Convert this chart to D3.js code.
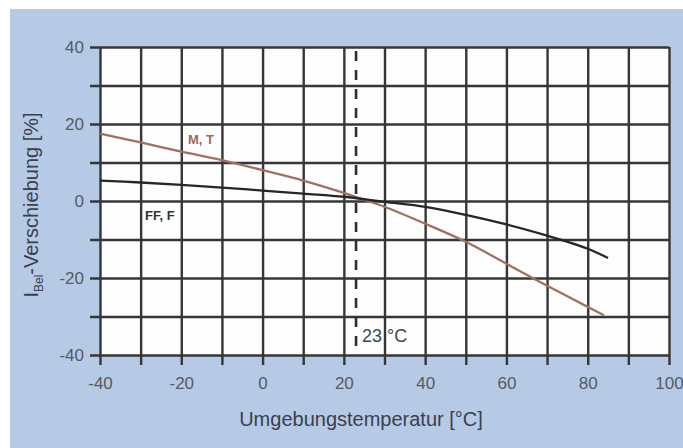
<!DOCTYPE html>
<html>
<head>
<meta charset="utf-8">
<script src="https://cdn.jsdelivr.net/npm/d3@7"></script>
<style>
  html, body { margin: 0; padding: 0; background: #fff; }
  svg { display: block; font-family: "Liberation Sans", Arial, sans-serif; }
</style>
</head>
<body>
<svg width="683" height="448"></svg>
<script>
// temperature [°C] and shift [%]
var tempFF = [-40, -30, -20, -10, 0, 10, 20, 30, 40, 50, 60, 70, 80, 85];
var shiftFF = [5.3, 4.8, 4.2, 3.5, 2.7, 1.9, 1.1, -0.2, -1.5, -3.6, -6.1, -9.0, -12.4, -14.8];

var tempMT = [-40, -30, -20, -10, 0, 10, 20, 25, 30, 40, 50, 60, 70, 80, 84];
var shiftMT = [17.5, 15.2, 12.8, 10.6, 8.0, 5.3, 2.1, 0.3, -1.5, -5.9, -10.6, -16.3, -22.0, -27.5, -29.7];

var xTicks = [-40, -30, -20, -10, 0, 10, 20, 30, 40, 50, 60, 70, 80, 90, 100];
var yTicks = [-40, -30, -20, -10, 0, 10, 20, 30, 40];
var refTemp = 23;

var svg = d3.select("svg"),
    plotL = 100, plotR = 669, plotT = 47, plotB = 355;

var x = d3.scaleLinear().domain([-40, 100]).range([plotL, plotR]);
var y = d3.scaleLinear().domain([-40, 40]).range([plotB, plotT]);

// blue panel
svg.append("rect")
    .attr("x", 10).attr("y", 9)
    .attr("width", 673).attr("height", 439)
    .attr("fill", "#b6cae6");

// plot area
svg.append("rect")
    .attr("x", plotL).attr("y", plotT)
    .attr("width", plotR - plotL).attr("height", plotB - plotT)
    .attr("fill", "#fdfdfd");

var gridColor = "#363636";

// horizontal grid + y labels
var yAxis = svg.append("g")
    .attr("transform", "translate(" + plotR + ",0)")
    .call(d3.axisLeft(y)
        .tickValues(yTicks)
        .tickSize(plotR - 90)
        .tickPadding(6)
        .tickFormat(function(d) { return d % 20 === 0 ? d : ""; }));
yAxis.select(".domain").remove();
yAxis.selectAll("line").attr("stroke", gridColor).attr("stroke-width", 2.4);
yAxis.selectAll("text")
    .attr("fill", "#555a63")
    .style("font-size", "17px");

// vertical grid + x labels
var xAxis = svg.append("g")
    .attr("transform", "translate(0," + plotT + ")")
    .call(d3.axisBottom(x)
        .tickValues(xTicks)
        .tickSize(365 - plotT)
        .tickPadding(12)
        .tickFormat(function(d) { return d % 20 === 0 ? d : ""; }));
xAxis.select(".domain").remove();
xAxis.selectAll("line").attr("stroke", gridColor).attr("stroke-width", 2.4);
xAxis.selectAll("text")
    .attr("fill", "#555a63")
    .style("font-size", "17px");

// 23 °C reference
svg.append("line")
    .attr("x1", x(refTemp)).attr("x2", x(refTemp))
    .attr("y1", plotT + 4).attr("y2", plotB)
    .attr("stroke", "#2e2e2e")
    .attr("stroke-width", 2.6)
    .attr("stroke-dasharray", "10,9");

svg.append("text")
    .attr("x", x(refTemp) + 6).attr("y", 342)
    .attr("fill", "#444")
    .style("font-size", "18px")
    .text("23 °C");

// curves
var line = d3.line()
    .x(function(d) { return x(d[0]); })
    .y(function(d) { return y(d[1]); })
    .curve(d3.curveCatmullRom.alpha(0.5));

svg.append("path")
    .datum(d3.zip(tempMT, shiftMT))
    .attr("d", line)
    .attr("fill", "none")
    .attr("stroke", "#9c7263")
    .attr("stroke-width", 2.3);

svg.append("path")
    .datum(d3.zip(tempFF, shiftFF))
    .attr("d", line)
    .attr("fill", "none")
    .attr("stroke", "#262626")
    .attr("stroke-width", 2.3);

// curve labels
svg.append("text")
    .attr("x", 188).attr("y", 144)
    .attr("fill", "#9a6a5e")
    .style("font-size", "13px")
    .style("font-weight", "bold")
    .text("M, T");

svg.append("text")
    .attr("x", 145).attr("y", 220)
    .attr("fill", "#333")
    .style("font-size", "13px")
    .style("font-weight", "bold")
    .text("FF, F");

// axis titles
svg.append("text")
    .attr("x", 361).attr("y", 426)
    .attr("text-anchor", "middle")
    .attr("fill", "#3a404e")
    .style("font-size", "20px")
    .text("Umgebungstemperatur [°C]");

var yt = svg.append("text")
    .attr("transform", "translate(38,205) rotate(-90)")
    .attr("text-anchor", "middle")
    .attr("fill", "#3a404e")
    .style("font-size", "20px");
yt.append("tspan").text("I");
yt.append("tspan").attr("dy", 5).style("font-size", "12px").text("Bel");
yt.append("tspan").attr("dy", -5).text("-Verschiebung [%]");
</script>
</body>
</html>
